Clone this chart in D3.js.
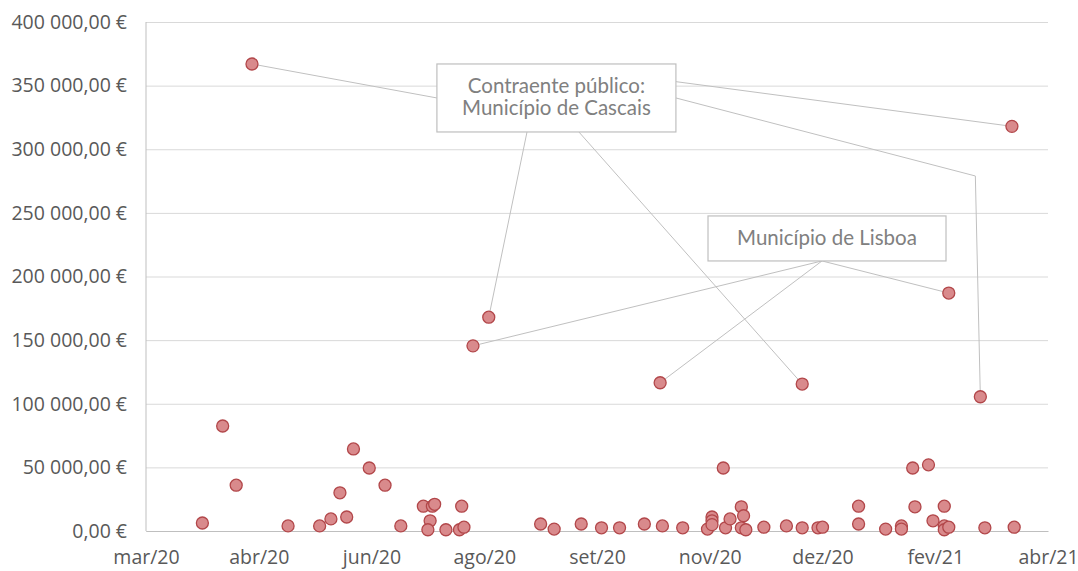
<!DOCTYPE html>
<html>
<head>
<meta charset="utf-8">
<script src="https://cdn.jsdelivr.net/npm/d3@7"></script>
<style>
  html, body { margin: 0; padding: 0; background: #ffffff; }
  svg { display: block; }
</style>
</head>
<body>
<svg id="chart" width="1078" height="571"></svg>
<script>
// ---------- DATA ----------
const tickDates = ["2020-03-05","2020-04-24","2020-06-13","2020-08-02","2020-09-21","2020-11-10","2020-12-30","2021-02-18","2021-04-09"];
const tickLabels = ["mar/20","abr/20","jun/20","ago/20","set/20","nov/20","dez/20","fev/21","abr/21"];
const yTicks = [0, 50000, 100000, 150000, 200000, 250000, 300000, 350000, 400000];

const dates = [
  "2020-03-30","2020-04-08","2020-04-14","2020-04-21","2020-05-07","2020-05-21","2020-05-26","2020-05-30",
  "2020-06-02","2020-06-05","2020-06-12","2020-06-19","2020-06-26","2020-07-06","2020-07-10","2020-07-11",
  "2020-07-09","2020-07-08","2020-07-16","2020-07-22","2020-07-24","2020-07-23","2020-07-28","2020-08-04",
  "2020-08-27","2020-09-02","2020-09-14","2020-09-23","2020-10-01","2020-10-12","2020-10-19","2020-10-20",
  "2020-10-29","2020-11-09","2020-11-11","2020-11-11","2020-11-11","2020-11-16","2020-11-17","2020-11-19",
  "2020-11-24","2020-11-25","2020-11-24","2020-11-26","2020-12-04","2020-12-14","2020-12-21","2020-12-21",
  "2020-12-28","2020-12-30","2021-01-15","2021-01-15","2021-01-27","2021-02-03","2021-02-03","2021-02-08",
  "2021-02-09","2021-02-15","2021-02-17","2021-02-22","2021-02-22","2021-02-22","2021-02-24","2021-02-24",
  "2021-03-10","2021-03-12","2021-03-24","2021-03-25"
];
const values = [
  6300, 82500, 36000, 367000, 4000, 4000, 9500, 30000,
  11000, 64500, 49500, 36000, 4000, 19500, 19500, 21000,
  8000, 1000, 1000, 1000, 3000, 19500, 145500, 168000,
  5500, 1500, 5500, 2500, 2500, 5500, 116500, 4000,
  2500, 1500, 11000, 8000, 5000, 49500, 2500, 9500,
  19000, 12000, 2500, 1000, 3000, 4000, 115500, 2500,
  2500, 3000, 19500, 5500, 1500, 4000, 1500, 49500,
  19000, 52000, 8000, 19500, 4000, 1000, 3000, 187000,
  105500, 2500, 318000, 3000
];

// annotation labels and the points they refer to (indices into dates/values)
const cascaisText = ["Contraente público:", "Município de Cascais"];
const cascaisTargets = [3, 23, 46, 66, 64];
const lisboaText = ["Município de Lisboa"];
const lisboaTargets = [22, 30, 63];

// ---------- CHART ----------
const parse = d3.timeParse("%Y-%m-%d");
const svg = d3.select("#chart");
const plotL = 146, plotR = 1048, plotT = 22, plotB = 531;

const x = d3.scaleTime()
  .domain([parse(tickDates[0]), parse(tickDates[tickDates.length - 1])])
  .range([plotL, plotR]);
const y = d3.scaleLinear().domain([0, 400000]).range([plotB, plotT]);

const loc = d3.formatLocale({ decimal: ",", thousands: "\u00a0", grouping: [3], currency: ["", "\u00a0€"] });
const fmt = v => loc.format(",.2f")(v) + "\u00a0€";

const FONT = "'Open Sans', 'Liberation Sans', sans-serif";

// gridlines + y labels
const yAxis = d3.axisLeft(y).tickValues(yTicks).tickSize(-(plotR - plotL)).tickFormat(fmt).tickPadding(19);
const gy = svg.append("g").attr("transform", `translate(${plotL},0)`).call(yAxis);
gy.select(".domain").remove();
gy.selectAll(".tick line").attr("stroke", "#d9d9d9").attr("stroke-width", 1);
gy.selectAll(".tick text")
  .attr("fill", "#595959")
  .style("font-family", FONT)
  .style("font-size", "19.5px");

// x axis
const xAxis = d3.axisBottom(x)
  .tickValues(tickDates.map(parse))
  .tickSize(0)
  .tickPadding(19)
  .tickFormat((d, i) => tickLabels[i]);
const gx = svg.append("g").attr("transform", `translate(0,${plotB})`).call(xAxis);
gx.select(".domain").attr("stroke", "#bfbfbf");
gx.selectAll(".tick text")
  .attr("fill", "#595959")
  .style("font-family", FONT)
  .style("font-size", "19.5px");

// left axis line
svg.append("line")
  .attr("x1", plotL).attr("x2", plotL).attr("y1", plotT).attr("y2", plotB)
  .attr("stroke", "#bfbfbf");

// ---------- ANNOTATIONS ----------
const px = i => x(parse(dates[i]));
const py = i => y(values[i]);

const cascaisBox = { cx: x(parse("2020-09-03")), cy: y(340300), w: 239, h: 68 };
const lisboaBox  = { cx: x(parse("2021-01-01")), cy: y(229900), w: 238, h: 45 };

function boxPt(b, fx, fy) {
  return [b.cx - b.w / 2 + fx * b.w, b.cy - b.h / 2 + fy * b.h];
}

const cascaisAnchors = [[0, 0.5], [0.377, 1], [0.594, 1], [1, 0.26], [1, 0.5]];
const lisboaAnchors = [[0.479, 1], [0.479, 1], [0.479, 1]];

const leaders = svg.append("g").attr("fill", "none").attr("stroke", "#c0c0c0").attr("stroke-width", 1);
const line = d3.line();
cascaisTargets.forEach((t, k) => {
  const a = boxPt(cascaisBox, cascaisAnchors[k][0], cascaisAnchors[k][1]);
  let pts = [a, [px(t), py(t)]];
  if (k === 4) {
    pts = [a, [px(t) - 5, y(279000)], [px(t), py(t)]];
  }
  leaders.append("path").attr("d", line(pts));
});
lisboaTargets.forEach((t, k) => {
  const a = boxPt(lisboaBox, lisboaAnchors[k][0], lisboaAnchors[k][1]);
  leaders.append("path").attr("d", line([a, [px(t), py(t)]]));
});

function drawBox(b, lines, lh, firstOffset) {
  const g = svg.append("g");
  g.append("rect")
    .attr("x", b.cx - b.w / 2).attr("y", b.cy - b.h / 2)
    .attr("width", b.w).attr("height", b.h)
    .attr("fill", "#ffffff").attr("stroke", "#bfbfbf").attr("stroke-width", 1.2);
  lines.forEach((s, i) => {
    g.append("text")
      .attr("x", b.cx)
      .attr("y", b.cy + firstOffset + i * lh)
      .attr("text-anchor", "middle")
      .attr("fill", "#808080")
      .style("font-family", "Lato, 'Open Sans', sans-serif")
      .style("font-size", "20.5px")
      .text(s);
  });
}
drawBox(cascaisBox, cascaisText, 22.5, -5);
drawBox(lisboaBox, lisboaText, 0, 7);

// ---------- POINTS ----------
svg.append("g").selectAll("circle")
  .data(values.map((v, i) => i))
  .join("circle")
  .attr("cx", i => px(i))
  .attr("cy", i => py(i))
  .attr("r", 6)
  .attr("fill", "#d98a8c")
  .attr("stroke", "#b2474a")
  .attr("stroke-width", 1.3);
</script>
</body>
</html>
